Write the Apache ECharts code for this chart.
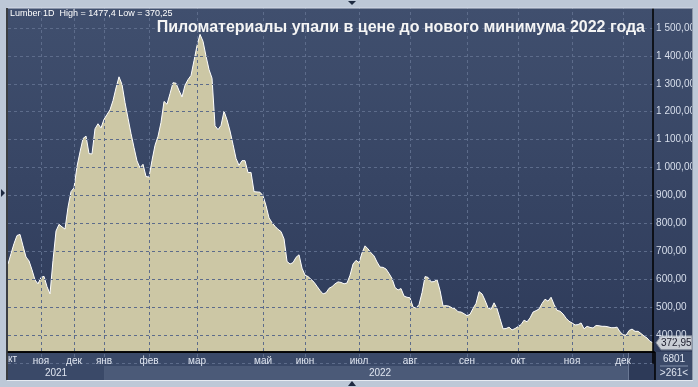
<!DOCTYPE html>
<html><head><meta charset="utf-8">
<script src="https://cdn.jsdelivr.net/npm/echarts@6/dist/echarts.min.js"></script>
<style>html,body{margin:0;padding:0;background:#bdc8d7;overflow:hidden}#c{width:698px;height:387px}</style>
</head><body><div id="c"></div>
<script>
// Lumber daily close (one point per ~3px)
const values = [
655,692,728,757,761,720,680,666,634,598,584,607,611,574,548,668,773,797,788,780,
858,914,928,1004,1056,1104,1113,1050,1049,1139,1157,1142,1173,1190,1207,1240,1285,1325,1298,1233,
1177,1122,1072,1024,999,1012,968,966,1026,1080,1112,1162,1237,1227,1265,1304,1302,1276,1253,1295,
1315,1330,1383,1437,1477,1452,1399,1351,1320,1150,1136,1151,1202,1171,1131,1083,1033,1008,1025,1025,
982,983,914,913,912,899,864,820,803,790,779,771,745,664,655,660,679,688,640,615,
610,600,590,575,560,548,552,568,574,584,591,589,584,587,615,655,668,660,695,720,
709,695,684,662,644,643,637,621,603,571,562,567,540,536,534,501,497,510,553,610,
607,591,592,599,560,505,506,504,498,495,484,483,477,470,475,496,514,556,548,525,
498,493,516,495,459,423,424,429,419,424,431,438,454,448,462,483,488,494,514,529,
522,536,510,489,486,476,461,450,444,437,438,444,423,432,428,426,435,434,432,432,
430,427,427,429,412,402,400,417,422,414,414,406,397,390,378,372.95
];
const monthNames = ['ноя','дек','янв','фев','мар','май','июн','июл','авг','сен','окт','ноя','дек'];
const monthPos   = [11,22,32,47,63,85,99,117,134,153,170,188,205];
const yearNames = ['2021','2022'];
const yearPos   = [16,124];
const firstMonthStub = 'кт';
const yMin = 300, yMax = 1600, yStep = 100;
const infoText = 'Lumber 1D  High = 1477,4 Low = 370,25';
const titleText = 'Пиломатериалы упали в цене до нового минимума 2022 года';
const lastPrice = 372.95;
const volText = ['6801', '>261<'];

const categories = values.map((v, i) => String(i));
const labelMap = {};
monthPos.forEach((p, i) => { labelMap[p] = monthNames[i]; });
const isMonth = (idx) => labelMap[idx] !== undefined;

function fmtY(v) {
  if (v === yMin || v === yMax) return '';
  const s = v >= 1000 ? Math.floor(v / 1000) + ' ' + String(v % 1000).padStart(3, '0') : String(v);
  return s + ',00';
}

const FONT = '"Liberation Sans", Arial, sans-serif';
const chart = echarts.init(document.getElementById('c'), null, { renderer: 'canvas' });

const pxPerUnit = 310 / 1100;
const gridTop = 25 - (yMax - 1500) * pxPerUnit;
const gridH = (yMax - yMin) * pxPerUnit;
const gridBottomY = gridTop + gridH;

const option = {
  backgroundColor: '#bdc8d7',
  animation: false,
  title: {
    text: titleText, right: 48, top: 15, z: 12,
    textStyle: { color: '#f4f4f4', fontSize: 16, fontWeight: 'bold', fontFamily: FONT }
  },
  grid: { left: 8, top: gridTop, width: 647, height: gridH, containLabel: false },
  xAxis: {
    type: 'category', data: categories, boundaryGap: false,
    offset: 352 - gridBottomY, z: 10,
    axisLine: { show: true, lineStyle: { color: '#000', width: 1.5 } },
    axisTick: { show: false },
    axisLabel: {
      color: '#dfe5f0', fontSize: 10, fontFamily: FONT, margin: 4,
      interval: (i) => isMonth(i),
      formatter: (v, i) => labelMap[i] || ''
    },
    splitLine: { show: true, interval: (i) => isMonth(i),
      lineStyle: { color: '#5d6c8b', type: [3, 3], width: 1 } }
  },
  yAxis: {
    type: 'value', position: 'right', min: yMin, max: yMax, interval: yStep, z: 10,
    axisLine: { show: true, lineStyle: { color: '#000', width: 1.5 } },
    axisTick: { show: false },
    axisLabel: { color: '#d8dfec', fontSize: 10, fontFamily: FONT, margin: 3, formatter: fmtY },
    splitLine: { show: true, lineStyle: { color: '#5d6c8b', type: [3, 3], width: 1 } }
  },
  series: [{
    type: 'line', data: values, showSymbol: false, z: 2,
    lineStyle: { color: '#ffffff', width: 1 },
    areaStyle: { color: '#ccc7a5', opacity: 1 },
    clip: true
  }]
};
chart.setOption(option);

// decorations, positioned from the axes
const yLast = chart.convertToPixel({ yAxisIndex: 0 }, lastPrice);
const yearX = yearPos.map(p => chart.convertToPixel({ xAxisIndex: 0 }, p));
const splitX = chart.convertToPixel({ xAxisIndex: 0 }, monthPos[2]);

const bgGrad = new echarts.graphic.LinearGradient(0, 0, 0, 1, [
  { offset: 0, color: '#404f6e' }, { offset: 1, color: '#2e3b5a' }
]);
const graphics = [
  { type: 'rect', shape: { x: 8, y: 8, width: 684, height: 344 }, style: { fill: bgGrad }, z: -10, silent: true },
  // top strip over the extended grid
  { type: 'rect', shape: { x: 0, y: 0, width: 698, height: 8 }, style: { fill: '#bdc8d7' }, z: 11 },
  { type: 'line', shape: { x1: 7, y1: 8, x2: 693, y2: 8 }, style: { stroke: '#d4dbe6', lineWidth: 1 }, z: 11 },
  // bottom bands
  { type: 'rect', shape: { x: 8, y: 352, width: 647, height: 14 }, style: { fill: '#3a4968' }, z: 5 },
  { type: 'rect', shape: { x: 8, y: 366, width: splitX - 8, height: 14 }, style: { fill: '#3a4968' }, z: 5 },
  { type: 'rect', shape: { x: splitX, y: 366, width: 628 - splitX, height: 14 }, style: { fill: '#4b5a78' }, z: 5 },
  { type: 'rect', shape: { x: 628, y: 352, width: 27, height: 28 }, style: { fill: '#2d3a58' }, z: 5 },
  { type: 'line', shape: { x1: 628.5, y1: 352, x2: 628.5, y2: 380 }, style: { stroke: '#6a7894', lineWidth: 1 }, z: 6 },
  { type: 'rect', shape: { x: 655, y: 352, width: 38, height: 28 }, style: { fill: '#3a4968' }, z: 5 },
  { type: 'rect', shape: { x: 0, y: 380, width: 698, height: 7 }, style: { fill: '#bdc8d7' }, z: 11 },
  { type: 'rect', shape: { x: 0, y: 0, width: 7, height: 387 }, style: { fill: '#bdc8d7' }, z: 11 },
  { type: 'rect', shape: { x: 693, y: 0, width: 5, height: 387 }, style: { fill: '#bdc8d7' }, z: 11 },
  { type: 'line', shape: { x1: 7, y1: 8, x2: 7, y2: 380 }, style: { stroke: '#111', lineWidth: 1.5 }, z: 12 },
  { type: 'line', shape: { x1: 692.5, y1: 8, x2: 692.5, y2: 380 }, style: { stroke: '#8c97a8', lineWidth: 1 }, z: 12 },
  { type: 'line', shape: { x1: 7, y1: 380.5, x2: 693, y2: 380.5 }, style: { stroke: '#e6ebf2', lineWidth: 1 }, z: 12 },
  { type: 'line', shape: { x1: 655, y1: 352, x2: 655, y2: 380 }, style: { stroke: '#000', lineWidth: 1.5 }, z: 6 },
  { type: 'line', shape: { x1: 8, y1: 352, x2: 655, y2: 352 }, style: { stroke: '#000', lineWidth: 1.5 }, z: 6 },
  // year labels
  { type: 'text', x: yearX[0], y: 373, style: { text: yearNames[0], fill: '#dfe5f0', font: '10px ' + FONT, align: 'center', verticalAlign: 'middle' }, z: 7 },
  { type: 'text', x: yearX[1], y: 373, style: { text: yearNames[1], fill: '#dfe5f0', font: '10px ' + FONT, align: 'center', verticalAlign: 'middle' }, z: 7 },
  { type: 'text', x: 8, y: 359.5, style: { text: firstMonthStub, fill: '#dfe5f0', font: '10px ' + FONT, align: 'left', verticalAlign: 'middle' }, z: 7 },
  // volume box
  { type: 'text', x: 674, y: 359, style: { text: volText[0], fill: '#dfe5f0', font: '10px ' + FONT, align: 'center', verticalAlign: 'middle' }, z: 7 },
  { type: 'line', shape: { x1: 660, y1: 366, x2: 688, y2: 366 }, style: { stroke: '#8090aa', lineWidth: 1 }, z: 7 },
  { type: 'text', x: 674, y: 373, style: { text: volText[1], fill: '#dfe5f0', font: '10px ' + FONT, align: 'center', verticalAlign: 'middle' }, z: 7 },
  // info text
  { type: 'text', x: 10, y: 14, style: { text: infoText, fill: '#ffffff', font: '9px ' + FONT, align: 'left', verticalAlign: 'middle' }, z: 12 },
  // last price tag
  { type: 'polygon', shape: { points: [[656, yLast], [661, yLast - 7], [692, yLast - 7], [692, yLast + 7], [661, yLast + 7]] },
    style: { fill: '#c9cdd4', stroke: '#7d8594', lineWidth: 1 }, z: 8 },
  { type: 'text', x: 661, y: yLast, style: { text: String(lastPrice).replace('.', ','), fill: '#1a1a2a', font: '10px ' + FONT, align: 'left', verticalAlign: 'middle' }, z: 9 },
  // small scroll triangles
  { type: 'polygon', shape: { points: [[348, 1], [356, 1], [352, 5]] }, style: { fill: '#1e2a40' }, z: 13 },
  { type: 'polygon', shape: { points: [[348, 386], [356, 386], [352, 381]] }, style: { fill: '#1e2a40' }, z: 13 },
  { type: 'polygon', shape: { points: [[1, 189], [1, 197], [5, 193]] }, style: { fill: '#1e2a40' }, z: 13 }
];
chart.setOption({ graphic: graphics });
</script>
</body></html>
